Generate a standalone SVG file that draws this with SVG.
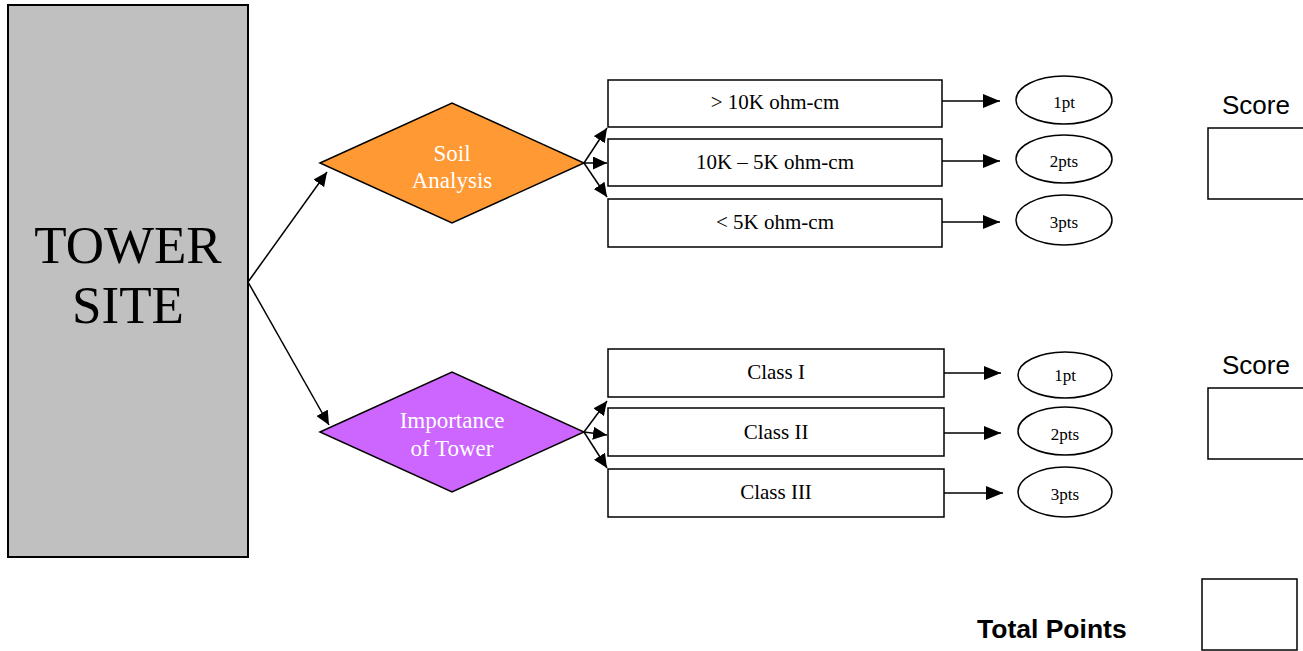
<svg xmlns="http://www.w3.org/2000/svg" width="1303" height="651" viewBox="0 0 1303 651">
<defs>
<style>
.box{fill:#fff;stroke:#000;stroke-width:1.5}
.ser{font-family:"Liberation Serif","Times New Roman",serif;text-anchor:middle}
.wt{fill:#fff;font-size:23px}
.bt{font-size:21px}
.et{font-size:17px}
.sans{font-family:"Liberation Sans",Arial,sans-serif}
.ln{stroke:#000;stroke-width:1.5;fill:none}
</style>
<marker id="ah" viewBox="0 0 10 10" refX="10" refY="5" markerWidth="14" markerHeight="13" markerUnits="userSpaceOnUse" orient="auto" preserveAspectRatio="none"><path d="M0,0 L10,5 L0,10 z" fill="#000"/></marker>
<marker id="ah2" viewBox="0 0 10 10" refX="10" refY="5" markerWidth="17" markerHeight="14" markerUnits="userSpaceOnUse" orient="auto" preserveAspectRatio="none"><path d="M0,0 L10,5 L0,10 z" fill="#000"/></marker>
</defs>
<rect width="1303" height="651" fill="#fff"/>
<g id="tower">
<rect x="8" y="5" width="240" height="552" fill="#c0c0c0" stroke="#000" stroke-width="2"/>
<text class="ser" x="128" y="263" font-size="53">TOWER</text>
<text class="ser" x="128" y="323" font-size="53">SITE</text>
</g>
<g id="soil">
<polygon points="320,163 452,103 584,163 452,223" fill="#ff9933" stroke="#000" stroke-width="1.5"/>
<text class="ser wt" x="452" y="161">Soil</text>
<text class="ser wt" x="452" y="188">Analysis</text>
</g>
<g id="importance">
<polygon points="320,432 452,372 584,432 452,492" fill="#cc66ff" stroke="#000" stroke-width="1.5"/>
<text class="ser wt" x="452" y="428">Importance</text>
<text class="ser wt" x="452" y="456">of Tower</text>
</g>
<g id="soil-options">
<rect class="box" x="608" y="80" width="334" height="47"/>
<text class="ser bt" x="775" y="109">&gt; 10K ohm-cm</text>
<rect class="box" x="608" y="139" width="334" height="47"/>
<text class="ser bt" x="775" y="169">10K – 5K ohm-cm</text>
<rect class="box" x="608" y="199" width="334" height="48"/>
<text class="ser bt" x="775" y="229">&lt; 5K ohm-cm</text>
</g>
<g id="class-options">
<rect class="box" x="608" y="349" width="336" height="48"/>
<text class="ser bt" x="776" y="379">Class I</text>
<rect class="box" x="608" y="408" width="336" height="48"/>
<text class="ser bt" x="776" y="439">Class II</text>
<rect class="box" x="608" y="469" width="336" height="48"/>
<text class="ser bt" x="776" y="499">Class III</text>
</g>
<g id="soil-points">
<ellipse class="box" cx="1064" cy="100" rx="48" ry="24"/>
<text class="ser et" x="1064" y="108">1pt</text>
<ellipse class="box" cx="1064" cy="159" rx="48" ry="24"/>
<text class="ser et" x="1064" y="167">2pts</text>
<ellipse class="box" cx="1064" cy="220" rx="48" ry="25"/>
<text class="ser et" x="1064" y="228">3pts</text>
</g>
<g id="class-points">
<ellipse class="box" cx="1065" cy="375" rx="47" ry="23"/>
<text class="ser et" x="1065" y="381">1pt</text>
<ellipse class="box" cx="1065" cy="431" rx="47" ry="24"/>
<text class="ser et" x="1065" y="440">2pts</text>
<ellipse class="box" cx="1065" cy="492" rx="47" ry="25"/>
<text class="ser et" x="1065" y="500">3pts</text>
</g>
<g id="scores">
<text class="sans" x="1222" y="114" font-size="26">Score</text>
<rect class="box" x="1208" y="128" width="100" height="71"/>
<text class="sans" x="1222" y="374" font-size="26">Score</text>
<rect class="box" x="1208" y="388" width="100" height="71"/>
<text class="sans" x="977" y="638" font-size="26.5" font-weight="bold">Total Points</text>
<rect class="box" x="1202" y="579" width="95" height="71"/>
</g>
<g id="connectors">
<line class="ln" x1="248" y1="282" x2="327" y2="172" marker-end="url(#ah)"/>
<line class="ln" x1="248" y1="282" x2="329" y2="425" marker-end="url(#ah)"/>
<line class="ln" x1="584" y1="163" x2="607" y2="128" marker-end="url(#ah)"/>
<line class="ln" x1="584" y1="163" x2="607" y2="163" marker-end="url(#ah)"/>
<line class="ln" x1="584" y1="163" x2="607" y2="197" marker-end="url(#ah)"/>
<line class="ln" x1="584" y1="432" x2="607" y2="401" marker-end="url(#ah)"/>
<line class="ln" x1="584" y1="432" x2="607" y2="435" marker-end="url(#ah)"/>
<line class="ln" x1="584" y1="432" x2="607" y2="468" marker-end="url(#ah)"/>
<line class="ln" x1="942" y1="101" x2="1000" y2="101" marker-end="url(#ah2)"/>
<line class="ln" x1="942" y1="161" x2="1000" y2="161" marker-end="url(#ah2)"/>
<line class="ln" x1="942" y1="222" x2="1000" y2="222" marker-end="url(#ah2)"/>
<line class="ln" x1="944" y1="373" x2="1001" y2="373" marker-end="url(#ah2)"/>
<line class="ln" x1="944" y1="433" x2="1001" y2="433" marker-end="url(#ah2)"/>
<line class="ln" x1="944" y1="493" x2="1003" y2="493" marker-end="url(#ah2)"/>
</g>
</svg>
